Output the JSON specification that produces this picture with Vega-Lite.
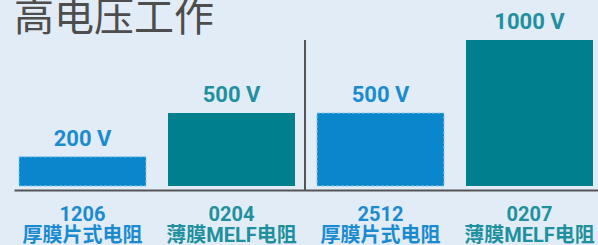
{
  "$schema": "https://vega.github.io/schema/vega-lite/v6.json",
  "autosize": {"type": "none"},
  "padding": {"left": 14, "top": 40, "right": 0, "bottom": 55},
  "width": 584,
  "height": 150,
  "background": "#e1ecf7",
  "config": {"view": {"stroke": null}},
  "title": {
    "text": "高电压工作",
    "anchor": "start",
    "frame": "group",
    "font": "Noto Sans CJK SC",
    "fontSize": 40,
    "fontWeight": "normal",
    "color": "#4d4d4d",
    "baseline": "alphabetic",
    "offset": 0,
    "dy": 60
  },
  "data": {
    "values": [
      {"key": "1206|厚膜片式电阻", "voltage": 200, "label": "200 V", "film": "thick"},
      {"key": "0204|薄膜MELF电阻", "voltage": 500, "label": "500 V", "film": "thin"},
      {"key": "2512|厚膜片式电阻", "voltage": 500, "label": "500 V", "film": "thick"},
      {"key": "0207|薄膜MELF电阻", "voltage": 1000, "label": "1000 V", "film": "thin"}
    ]
  },
  "encoding": {
    "x": {
      "field": "key",
      "type": "nominal",
      "sort": null,
      "scale": {"paddingInner": 0.1477, "paddingOuter": 0.0336},
      "axis": {
        "title": null,
        "orient": "bottom",
        "labelAngle": 0,
        "ticks": false,
        "domainColor": "#555555",
        "domainWidth": 2,
        "labelExpr": "split(datum.value, '|')",
        "labelFont": "Roboto, Noto Sans CJK SC",
        "labelFontWeight": "bold",
        "labelFontSize": 20,
        "labelLineHeight": 21,
        "labelPadding": 14,
        "labelBaseline": "top",
        "labelColor": {
          "condition": {"test": "indexof(datum.value, '厚膜') >= 0", "value": "#1b8bd0"},
          "value": "#1f909e"
        }
      }
    },
    "y": {
      "field": "voltage",
      "type": "quantitative",
      "scale": {"domain": [0, 1000], "range": [146, 0], "nice": false},
      "axis": null
    }
  },
  "layer": [
    {
      "mark": {"type": "bar", "strokeDash": [3, 2], "strokeWidth": 1},
      "encoding": {
        "color": {
          "field": "film",
          "type": "nominal",
          "scale": {"domain": ["thick", "thin"], "range": ["#0a87cc", "#007f8f"]},
          "legend": null
        },
        "stroke": {
          "condition": {"test": "datum.film == 'thick'", "value": "#8cc6ee"},
          "value": null
        }
      }
    },
    {
      "mark": {"type": "text", "font": "Roboto", "fontWeight": "bold", "fontSize": 22, "baseline": "alphabetic", "dy": -11},
      "encoding": {
        "text": {"field": "label"},
        "color": {
          "condition": {"test": "datum.film == 'thick'", "value": "#1b8bd0"},
          "value": "#1f909e"
        }
      }
    },
    {
      "mark": {"type": "rule", "color": "#555555", "strokeWidth": 2},
      "encoding": {
        "x": {"datum": "0204|薄膜MELF电阻", "bandPosition": 1.079},
        "y": null
      }
    }
  ]
}
